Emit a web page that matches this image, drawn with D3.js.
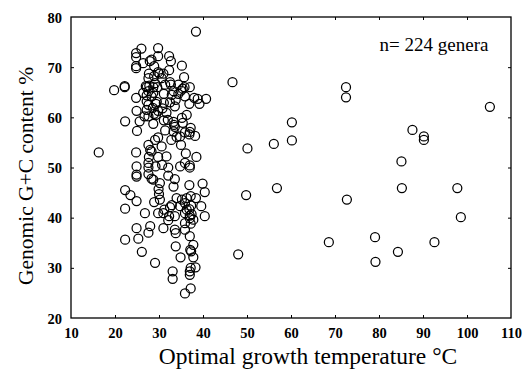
<!DOCTYPE html>
<html><head><meta charset="utf-8">
<script src="https://cdn.jsdelivr.net/npm/d3@7"></script>
<style>body{margin:0;background:#fff}</style>
</head><body>
<svg id="c" width="525" height="373"></svg>
<script>
// Optimal growth temperature (°C)
const temperature = [
 // right-hand scattered points
 46.7,72.5,72.5,105.2,60.2,60.2,56.1,50.1,87.6,90.2,90.2,85.1,85.2,97.8,98.6,56.8,49.8,72.7,68.6,79.1,79.2,84.3,92.6,48.0,16.3,19.8,38.4,
 // ~22-23
 22.2,22.2,22.3,22.3,23.5,22.3,22.3,
 // ~25
 24.8,24.8,24.8,24.8,24.8,24.9,25.0,24.8,24.9,24.9,24.9,24.9,24.9,25.3,
 // ~26-27
 26.0,26.4,26.1,25.6,26.8,27.2,26.7,
 // ~28-29
 27.6,27.7,27.9,28.3,27.8,27.6,27.2,27.6,27.6,27.6,28.0,27.7,27.6,27.6,27.6,28.3,27.6,28.0,28.7,28.7,28.9,28.3,28.9,29.1,28.9,28.9,29.1,29.3,29.3,
 // ~30
 29.8,29.8,29.8,30.1,29.6,29.5,29.8,29.8,29.8,29.2,30.2,29.9,30.0,29.8,
 // ~31-32
 30.7,31.0,31.0,30.8,31.1,31.4,31.1,31.4,31.2,
 // ~32-34
 32.3,32.7,32.3,32.5,32.7,32.5,32.1,32.1,32.1,32.3,32.9,32.5,33.1,33.1,32.8,33.3,33.4,33.6,33.3,32.9,33.6,33.6,33.8,33.8,34.0,33.6,34.0,33.8,33.3,
 // ~35-36
 35.2,34.4,35.0,35.4,35.7,35.8,35.9,35.0,34.8,35.4,34.8,35.9,34.9,35.9,35.9,35.9,35.9,35.9,
 // ~37
 37.0,36.9,37.2,37.0,36.9,37.0,37.0,36.9,37.2,37.3,36.9,37.0,37.0,37.2,37.0,37.1,37.3,37.0,37.0,37.2,37.2,36.3,36.1,
 // ~38-41
 38.0,38.8,39.2,40.7,38.2,38.5,39.9,40.4,38.4,39.6,40.4,37.8,37.8,38.3,37.4,
 // extra dense-region points
 27.2,28.3,26.4,27.0,28.6,29.1,31.1,31.7,32.0,33.6,34.4,35.2,36.3,30.6,31.7,28.7,30.2,34.8,35.2,36.3,35.9,37.8,33.3,30.6,31.0,27.2,28.7
];
// Genomic G+C content (%)
const gcContent = [
 67.0,66.0,64.0,62.1,59.0,55.4,54.7,53.8,57.5,56.2,55.5,51.2,45.9,45.9,40.1,45.9,44.5,43.6,35.1,36.1,31.2,33.2,35.1,32.7,53.0,65.4,77.1,
 66.0,66.2,59.2,45.5,44.5,41.8,35.6,
 72.8,72.0,70.2,69.8,63.9,61.3,57.3,53.0,50.2,48.2,48.6,43.3,37.9,35.8,
 73.7,70.8,33.2,59.2,40.9,64.4,60.2,
 67.8,68.7,71.2,71.5,66.3,65.2,63.2,62.5,60.2,54.5,53.5,52.1,50.9,50.0,48.7,47.8,37.0,38.3,66.0,58.7,60.7,53.2,43.1,31.0,70.2,68.2,66.8,62.7,60.5,
 73.8,72.2,69.0,68.7,66.0,63.1,61.3,56.0,52.1,50.2,46.9,45.7,44.7,40.9,
 50.5,40.9,37.9,61.8,59.4,57.4,64.7,66.5,41.6,
 72.2,71.2,69.4,67.0,66.5,63.0,50.0,48.4,39.5,40.3,42.5,42.1,29.3,27.8,55.5,59.1,58.5,58.1,65.2,64.5,47.7,37.6,36.9,34.3,43.9,40.3,56.1,63.5,57.2,
 70.3,64.7,65.3,65.7,68.0,66.0,64.2,54.5,56.2,58.9,50.2,50.9,32.1,24.9,40.9,38.9,37.6,57.0,
 66.0,62.7,57.9,57.1,56.6,50.4,50.0,46.5,44.3,42.4,41.7,40.4,39.9,38.8,36.3,33.6,33.3,29.3,28.6,30.0,25.9,43.9,52.8,
 63.9,63.7,62.7,63.7,56.3,52.1,46.8,45.1,43.9,42.3,40.3,34.6,32.1,30.1,40.7,
 66.0,64.2,64.9,66.2,61.9,55.5,62.9,60.9,59.5,62.2,66.5,59.9,60.5,54.2,52.2,47.6,43.6,42.3,43.6,41.6,42.9,39.6,46.2,67.8,68.7,61.5,64.9
];
const xTicks = [10,20,30,40,50,60,70,80,90,100,110];
const yTicks = [20,30,40,50,60,70,80];
const annotation = "n= 224 genera";
const xTitle = "Optimal growth temperature °C";
const yTitle = "Genomic G+C content %";

const data = temperature.map((t,i)=>({t, g: gcContent[i]}));
const svg = d3.select("#c");
const L=71, R=511, T=17, B=318;
const x = d3.scaleLinear().domain([10,110]).range([L,R]);
const y = d3.scaleLinear().domain([20,80]).range([B,T]);
const serif = "'Liberation Serif','DejaVu Serif',serif";

// frame
svg.append("rect").attr("x",L).attr("y",T).attr("width",R-L).attr("height",B-T)
  .attr("fill","none").attr("stroke","#000").attr("stroke-width",1.3);

// axes
const gx = svg.append("g").attr("transform",`translate(0,${B})`)
  .call(d3.axisBottom(x).tickValues(xTicks).tickSize(-3).tickPadding(10).tickFormat(d3.format("d")));
const gxt = svg.append("g").attr("transform",`translate(0,${T})`)
  .call(d3.axisTop(x).tickValues(xTicks).tickSize(-3).tickFormat(""));
const gy = svg.append("g").attr("transform",`translate(${L},0)`)
  .call(d3.axisLeft(y).tickValues(yTicks).tickSize(-3).tickPadding(9).tickFormat(d3.format("d")));
const gyr = svg.append("g").attr("transform",`translate(${R},0)`)
  .call(d3.axisRight(y).tickValues(yTicks).tickSize(-3).tickFormat(""));
[gx,gxt,gy,gyr].forEach(g=>{
  g.select(".domain").remove();
  g.selectAll(".tick line").attr("stroke","#000").attr("stroke-width",1);
  g.selectAll("text").attr("font-family",serif).attr("font-size",14.5).attr("font-weight","bold").attr("fill","#000");
});
gx.selectAll(".tick line").filter(d=>d===10||d===110).remove();
gxt.selectAll(".tick line").filter(d=>d===10||d===110).remove();
gy.selectAll(".tick line").filter(d=>d===20||d===80).remove();
gyr.selectAll(".tick line").filter(d=>d===20||d===80).remove();
gy.selectAll("text").attr("dy","0.35em");

// points
svg.append("g").selectAll("circle").data(data).join("circle")
  .attr("cx",d=>x(d.t)).attr("cy",d=>y(d.g)).attr("r",4.5)
  .attr("fill","none").attr("stroke","#000").attr("stroke-width",1.25);

// texts
svg.append("text").attr("x",434).attr("y",51).attr("text-anchor","middle")
  .attr("font-family",serif).attr("font-size",19).text(annotation);
svg.append("text").attr("x",308).attr("y",364).attr("text-anchor","middle")
  .attr("font-family",serif).attr("font-size",23.5).text(xTitle);
svg.append("text").attr("transform","translate(33,176) rotate(-90)").attr("text-anchor","middle")
  .attr("font-family",serif).attr("font-size",21.5).text(yTitle);
</script>
</body></html>
